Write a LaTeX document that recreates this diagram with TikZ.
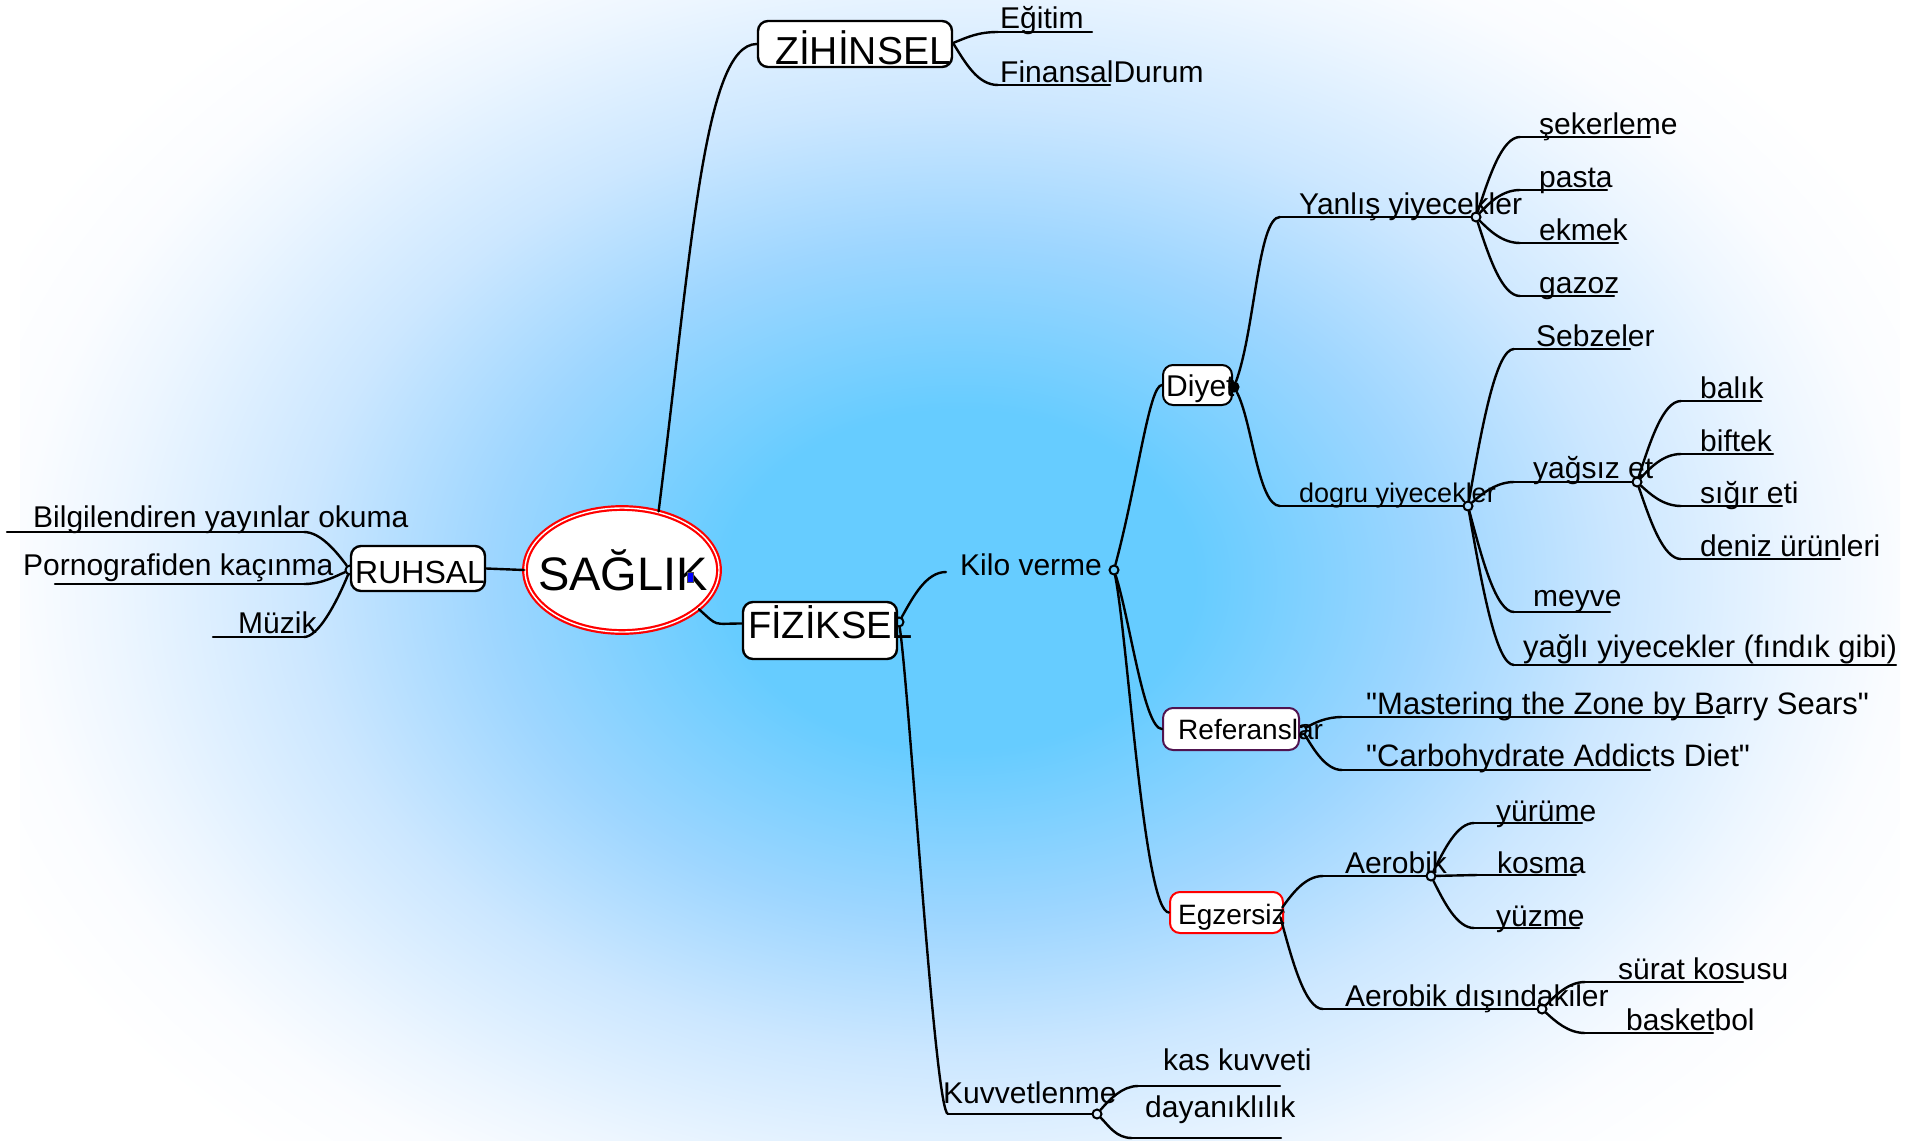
\documentclass[tikz,border=0pt]{standalone}
\usepackage{fontspec}
\newfontfamily\mmfont{Liberation Sans}
\setmainfont{Liberation Sans}
\usetikzlibrary{shapes.geometric,calc}
\definecolor{bgA}{RGB}{102,204,255}
\definecolor{bgB}{RGB}{158,214,255}
\definecolor{bgC}{RGB}{204,231,255}
\definecolor{bgD}{RGB}{237,246,255}
\definecolor{bgE}{RGB}{250,252,255}
\definecolor{refc}{RGB}{80,20,80}
\pgfdeclareradialshading{bgshade}{\pgfpoint{0bp}{0bp}}{color(0bp)=(bgA); color(6.25bp)=(bgA); color(12.5bp)=(bgB); color(17.5bp)=(bgC); color(22.5bp)=(bgD); color(25bp)=(bgE); color(28bp)=(white); color(50bp)=(white)}
\newcommand\mmfs[1]{\mmfont\fontsize{#1}{#1}\selectfont}
% leaf: [text opts]{name}{ul x1}{ul x2}{ul y}{text x}{text baseline}{text}
\newcommand\mmleaf[8][]{%
  \coordinate (#2) at (#3,#5);
  \coordinate (#2-e) at (#4,#5);
  \draw[conn] (#2) -- (#2-e);
  \node[txt,#1] (#2-t) at (#6,#7) {#8};}
\begin{document}
\begin{tikzpicture}[x=1pt,y=-1pt,
  conn/.style={line width=2.4pt, line cap=round},
  box/.style={draw, line width=2.4pt, rounded corners=10pt, fill=white, inner sep=0pt},
  jn/.style={circle, draw, line width=2pt, minimum size=9pt, inner sep=0pt},
  txt/.style={anchor=base west, inner sep=0pt, font=\mmfs{30}}]
\useasboundingbox (0,0) rectangle (1932,1140);
\begin{scope}
  \clip (0,0) rectangle (1932,1140);
  \shade[shading=bgshade] (20,-100) rectangle (1900,1260);
\end{scope}

% ---------- coordinates of connector ends ----------
\coordinate (zj) at (953,43);
\coordinate (kilo) at (946,572);
\coordinate (kuv) at (948,1114);
\coordinate (yanlis) at (1280,217);
\coordinate (dogru) at (1280,506);
\coordinate (yagsiz) at (1514,482);
\coordinate (aerobik) at (1323,876);
\coordinate (aerod) at (1323,1009);

% ---------- leaves ----------
\mmleaf{bilgi}{7}{304}{532}{33}{527}{Bilgilendiren yayınlar okuma}
\mmleaf{porno}{55}{304}{584}{23}{575}{Pornografiden kaçınma}
\mmleaf{muzik}{213}{304}{637}{238}{633}{Müzik}
\mmleaf{egitim}{998}{1092}{32}{1000}{29}{Eğitim}
\mmleaf{finans}{998}{1110}{85}{1000}{82}{FinansalDurum}
\mmleaf{sek}{1520}{1650}{137}{1539}{134}{şekerleme}
\mmleaf{pasta}{1520}{1607}{190}{1539}{187}{pasta}
\mmleaf{ekmek}{1520}{1618}{243}{1539}{240}{ekmek}
\mmleaf{gazoz}{1520}{1614}{296}{1539}{293}{gazoz}
\mmleaf{sebze}{1514}{1630}{349}{1536}{346}{Sebzeler}
\mmleaf{balik}{1681}{1761}{401}{1700}{398}{balık}
\mmleaf{biftek}{1681}{1773}{454}{1700}{451}{biftek}
\mmleaf{sigir}{1681}{1782}{506}{1700}{503}{sığır eti}
\mmleaf{deniz}{1681}{1840}{559}{1700}{556}{deniz ürünleri}
\mmleaf{meyve}{1514}{1610}{612}{1533}{606}{meyve}
\mmleaf[font=\mmfs{31}]{yagli}{1514}{1896}{665}{1523}{657}{yağlı yiyecekler (fındık gibi)}
\mmleaf[font=\mmfs{31}]{master}{1342}{1724}{717}{1366}{714}{"Mastering the Zone by Barry Sears"}
\mmleaf[font=\mmfs{31}]{carbo}{1342}{1650}{770}{1366}{766}{"Carbohydrate Addicts Diet"}
\mmleaf{yurume}{1474}{1582}{823}{1496}{821}{yürüme}
\mmleaf{kosma}{1477}{1576}{875}{1497}{873}{kosma}
\mmleaf{yuzme}{1474}{1579}{928}{1496}{926}{yüzme}
\mmleaf{surat}{1585}{1743}{982}{1618}{979}{sürat kosusu}
\mmleaf{basket}{1585}{1713}{1033}{1626}{1030}{basketbol}
\mmleaf{kas}{1138}{1280}{1086}{1163}{1070}{kas kuvveti}
\mmleaf{dayan}{1132}{1281}{1138}{1145}{1117}{dayanıklılık}

% ---------- junction markers ----------
\node[jn] (rj) at (350,570) {};
\node[jn] (fj) at (899,622) {};
\node[jn] (kj) at (1114,570) {};
\node[jn] (yj) at (1476,217) {};
\node[jn] (dgj) at (1468,506) {};
\node[jn] (ysj) at (1637,482) {};
\node[jn] (rfj) at (1302,730) {};
\node[jn] (ezj) at (1279,912) {};
\node[jn] (aej) at (1431,876) {};
\node[jn] (adj) at (1542,1009) {};
\node[jn] (kvj) at (1097,1114) {};

% ---------- main nodes (boxes) ----------
\node[ellipse, draw=red, double=white, double distance=1.4pt, line width=2.2pt, fill=white,
      minimum width=194pt, minimum height=124pt, inner sep=0pt] (saglik) at (622,570) {};
\node[box, minimum width=134pt, minimum height=45pt] (ruhsal) at (418,568.5) {};
\node[box, minimum width=194pt, minimum height=46pt] (zihinsel) at (855,44) {};
\node[box, minimum width=154pt, minimum height=57pt] (fiziksel) at (820,630.5) {};
\node[box, line width=2pt, minimum width=69pt, minimum height=40pt] (diyet) at (1197.5,385) {};
\node[box, draw=refc, line width=2pt, minimum width=136pt, minimum height=42pt] (referans) at (1231,729) {};
\node[box, draw=red, line width=2pt, minimum width=113pt, minimum height=41pt] (egz) at (1226.5,912.5) {};
\node[jn, fill=black] (dj) at (1234,387) {};

% ---------- connectors ----------
\draw[conn] (saglik.west) -- (ruhsal.east);
\draw[conn] (saglik.58) .. controls +(33,-262) and +(-53,0) .. (zihinsel.west);
\draw[conn] (saglik.-27) .. controls +(20,18) and +(-30,0) .. ([yshift=7pt]fiziksel.west);
% RUHSAL
\draw[conn] (rj) .. controls +(-14,-19) and +(16,0) .. (bilgi-e);
\draw[conn] (rj) .. controls +(-14,6) and +(18,0) .. (porno-e);
\draw[conn] (rj) .. controls +(-14,34) and +(14,0) .. (muzik-e);
% ZIHINSEL
\draw[conn] (zj) .. controls +(15,-6) and +(-20,0) .. (egitim);
\draw[conn] (zj) .. controls +(13,21) and +(-20,0) .. (finans);
% FIZIKSEL
\draw[conn] (fj) .. controls +(14,-25) and +(-20,0) .. (kilo);
\draw[conn] (fj) .. controls +(11,78) and +(-13,0) .. (kuv);
\draw[conn] (kuv) -- (kvj);
% Kilo verme
\draw[conn] (kj) .. controls +(24,-90) and +(-13,0) .. (diyet.west);
\draw[conn] (kj) .. controls +(16,50) and +(-18,0) .. (referans.west);
\draw[conn] (kj) .. controls +(14,70) and +(-25,0) .. (egz.west);
% Diyet
\draw[conn] (dj) .. controls +(21,-57) and +(-22,0) .. (yanlis);
\draw[conn] (dj) .. controls +(18,33) and +(-22,0) .. (dogru);
\draw[conn] (yanlis) -- (yj);
\draw[conn] (dogru) -- (dgj);
% Yanlis yiyecekler
\draw[conn] (yj) .. controls +(13,-40) and +(-18,0) .. (sek);
\draw[conn] (yj) .. controls +(13,-14) and +(-18,0) .. (pasta);
\draw[conn] (yj) .. controls +(13,13) and +(-18,0) .. (ekmek);
\draw[conn] (yj) .. controls +(13,40) and +(-18,0) .. (gazoz);
% dogru yiyecekler
\draw[conn] (dgj) .. controls +(14,-80) and +(-18,0) .. (sebze);
\draw[conn] (dgj) .. controls +(14,-12) and +(-18,0) .. (yagsiz);
\draw[conn] (dgj) .. controls +(14,53) and +(-18,0) .. (meyve);
\draw[conn] (dgj) .. controls +(14,80) and +(-18,0) .. (yagli);
\draw[conn] (yagsiz) -- (ysj);
% yagsiz et
\draw[conn] (ysj) .. controls +(13,-40) and +(-18,0) .. (balik);
\draw[conn] (ysj) .. controls +(13,-14) and +(-18,0) .. (biftek);
\draw[conn] (ysj) .. controls +(13,12) and +(-18,0) .. (sigir);
\draw[conn] (ysj) .. controls +(13,38) and +(-18,0) .. (deniz);
% Referanslar
\draw[conn] (rfj) .. controls +(12,-7) and +(-16,0) .. (master);
\draw[conn] (rfj) .. controls +(12,20) and +(-16,0) .. (carbo);
% Egzersiz
\draw[conn] (ezj) .. controls +(13,-18) and +(-18,0) .. (aerobik);
\draw[conn] (ezj) .. controls +(13,48) and +(-18,0) .. (aerod);
\draw[conn] (aerobik) -- (aej);
\draw[conn] (aerod) -- (adj);
\draw[conn] (aej) .. controls +(13,-26) and +(-17,0) .. (yurume);
\draw[conn] (aej) -- (kosma);
\draw[conn] (aej) .. controls +(13,26) and +(-17,0) .. (yuzme);
\draw[conn] (adj) .. controls +(13,-13) and +(-17,0) .. (surat);
\draw[conn] (adj) .. controls +(13,12) and +(-17,0) .. (basket);
% Kuvvetlenme
\draw[conn] (kvj) .. controls +(12,-14) and +(-16,0) .. (kas);
\draw[conn] (kvj) .. controls +(12,12) and +(-16,0) .. (dayan);

% ---------- texts of the main topics ----------
\node[txt, font=\mmfs{47}] (saglik-t) at (538,590) {SAĞLIK};
\node[txt, font=\mmfs{32}] (ruhsal-t) at (355,583) {RUHSAL};
\node[txt, font=\mmfs{39}] (zihinsel-t) at (775,64) {ZİHİNSEL};
\node[txt, font=\mmfs{38}] (fiziksel-t) at (748,638) {FİZİKSEL};
\node[txt] (diyet-t) at (1166,396) {Diyet};
\node[txt, font=\mmfs{28}] (referans-t) at (1178,739) {Referanslar};
\node[txt, font=\mmfs{28}] (egz-t) at (1178,924) {Egzersiz};
\node[txt] (kilo-t) at (960,575) {Kilo verme};
\node[txt] (kuvvet-t) at (943,1103) {Kuvvetlenme};
\node[txt] (yanlis-t) at (1299,214) {Yanlış yiyecekler};
\node[txt, font=\mmfs{27}] (dogru-t) at (1299,502) {dogru yiyecekler};
\node[txt] (yagsiz-t) at (1533,478) {yağsız et};
\node[txt] (aerobik-t) at (1345,873) {Aerobik};
\node[txt] (aerod-t) at (1345,1006) {Aerobik dışındakiler};
\node[draw=black!70, fill=blue, line width=0.6pt, minimum width=6pt, minimum height=10pt, inner sep=0pt] (mark) at (690.5,577) {};
\end{tikzpicture}
\end{document}
